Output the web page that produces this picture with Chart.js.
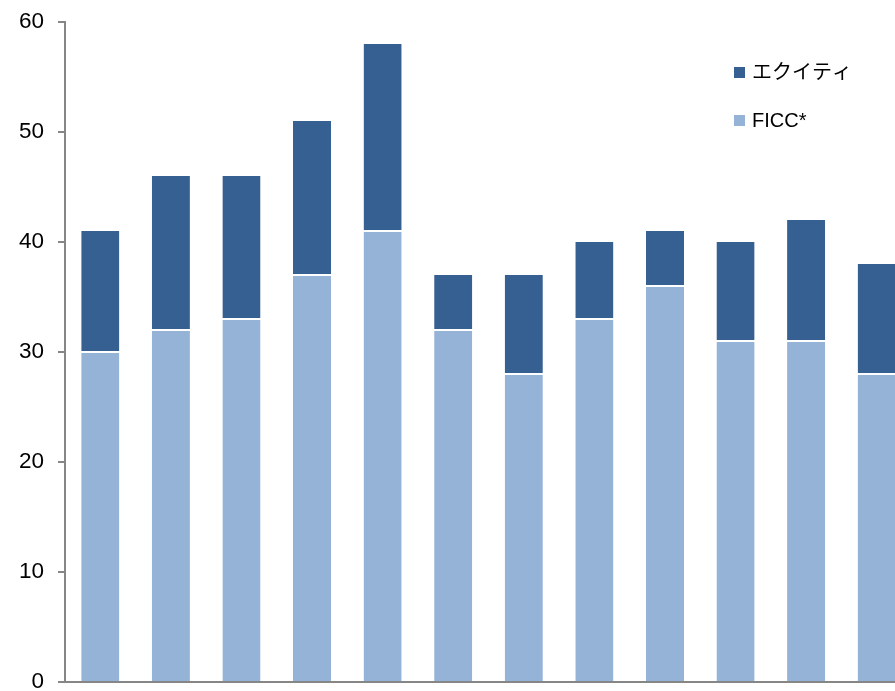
<!DOCTYPE html>
<html>
<head>
<meta charset="utf-8">
<script src="https://cdn.jsdelivr.net/npm/chart.js@4/dist/chart.umd.min.js"></script>
<style>
html,body{margin:0;padding:0;background:#fff;overflow:hidden;}
#wrap{width:912px;height:693px;position:relative;}
</style>
</head>
<body>
<div id="wrap"><canvas id="c" width="912" height="693"></canvas></div>
<script>
const categories = ["1","2","3","4","5","6","7","8","9","10","11","12"];
const ficc = [30,32,33,37,41,32,28,33,36,31,31,28];
const equity = [11,14,13,14,17,5,9,7,5,9,11,10];
const yTicks = [0,10,20,30,40,50,60];
const seriesNames = ["エクイティ","FICC*"];

const FONT = "'Liberation Sans', Arial, 'Noto Sans CJK JP', sans-serif";

const legendPlugin = {
  id: 'customLegend',
  afterDraw(chart) {
    const ctx = chart.ctx;
    const items = [
      {label: seriesNames[0], color: '#376092', y: 72},
      {label: seriesNames[1], color: '#95B3D7', y: 120}
    ];
    ctx.save();
    ctx.font = "20px " + FONT;
    ctx.textBaseline = 'middle';
    ctx.textAlign = 'left';
    items.forEach(it => {
      ctx.fillStyle = it.color;
      ctx.fillRect(734, it.y - 5, 11, 11);
      ctx.fillStyle = '#000';
      ctx.fillText(it.label, 752, it.y + 1);
    });
    ctx.restore();
  }
};

new Chart(document.getElementById('c'), {
  type: 'bar',
  data: {
    labels: categories,
    datasets: [
      {label: seriesNames[1], data: ficc, backgroundColor: '#95B3D7',
       borderColor: '#ffffff', borderWidth: {top: 1, bottom: 0, left: 0, right: 0}, borderSkipped: false,
       categoryPercentage: 1, barPercentage: 0.54},
      {label: seriesNames[0], data: equity, backgroundColor: '#376092',
       borderColor: '#ffffff', borderWidth: {top: 0, bottom: 1, left: 0, right: 0}, borderSkipped: false,
       categoryPercentage: 1, barPercentage: 0.54}
    ]
  },
  options: {
    responsive: false,
    animation: false,
    layout: {padding: {top: 22, bottom: 11, left: 0, right: 0}},
    plugins: {legend: {display: false}, tooltip: {enabled: false}},
    scales: {
      x: {
        stacked: true,
        ticks: {display: false},
        grid: {display: true, drawOnChartArea: false, drawTicks: false},
        border: {display: true, color: '#868686', width: 2},
        afterFit: (s) => { s.height = 0; s.paddingLeft = 0; s.paddingRight = 0; }
      },
      y: {
        stacked: true,
        min: 0, max: 60,
        afterBuildTicks: (s) => { s.ticks = yTicks.map(v => ({value: v})); },
        afterFit: (s) => { s.width = 65; s.paddingTop = 0; s.paddingBottom = 0; },
        ticks: {color: '#000', font: {family: FONT, size: 22.5}, padding: 14},
        grid: {drawOnChartArea: false, drawTicks: true, tickLength: 7, color: '#868686', lineWidth: 2},
        border: {display: true, color: '#868686', width: 2}
      }
    }
  },
  plugins: [legendPlugin]
});
</script>
</body>
</html>
